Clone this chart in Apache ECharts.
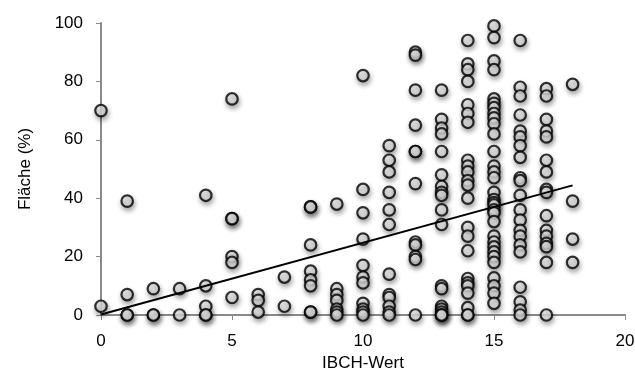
<!DOCTYPE html>
<html>
<head>
<meta charset="utf-8">
<script src="https://cdn.jsdelivr.net/npm/echarts@6/dist/echarts.min.js"></script>
<style>
  html, body { margin: 0; padding: 0; background: #fff; }
  #chart { width: 635px; height: 374px; }
</style>
</head>
<body>
<div id="chart"></div>
<script>
// IBCH-Wert (x) per column and Fläche (%) values
const col0 = [70, 3];
const col1 = [39, 7, 0, 0];
const col2 = [9, 0, 0];
const col3 = [9, 0];
const col4 = [41, 10, 3, 0, 0];
const col5 = [74, 33, 33, 20, 18, 6];
const col6 = [7, 5, 1];
const col7 = [13, 3];
const col8 = [37, 37, 24, 15, 12, 10, 1, 1];
const col9 = [38, 9, 7, 5, 2, 1, 0];
const col10 = [82, 43, 35, 26, 17, 13, 11, 4, 2, 1, 0];
const col11 = [58, 53, 49, 42, 36, 31, 14, 7, 6, 3, 1, 0];
const col12 = [90, 89, 77, 65, 56, 56, 45, 25, 24, 20, 19, 0];
const col13 = [77, 67, 64, 62, 56, 48, 44, 42, 41, 36, 31, 10, 9, 3, 2, 1, 0, 0, 0];
const col14 = [94, 86, 84, 80, 72, 69, 66, 53, 51, 49, 46, 44.5, 40, 30, 27, 22, 12.5, 11, 10, 7.5, 2.5, 0, 0];
const col15 = [99, 95, 87, 84, 74, 72.5, 71, 69, 67.5, 65.5, 62, 56, 51, 49, 47, 42, 39.5, 38.5, 37.7, 36, 35, 32, 27, 25, 23.3, 21.6, 20, 18, 12.7, 10, 7.5, 4];
const col16 = [94, 78, 75, 68.5, 63, 61, 58, 54, 47, 46, 41, 36, 32.5, 29, 27, 24, 21.6, 9.5, 4.5, 1.7, 0];
const col17 = [77.5, 75, 67, 63, 61, 53, 49, 43, 42, 34, 29, 27, 24.5, 23.4, 18, 0];
const col18 = [79, 39, 26, 18];
const columns = [col0, col1, col2, col3, col4, col5, col6, col7, col8, col9,
                 col10, col11, col12, col13, col14, col15, col16, col17, col18];

// linear trend line endpoints
const trendX = [0, 18];
const trendY = [0.2, 44.4];

const xTicks = [0, 5, 10, 15, 20];
const yTicks = [0, 20, 40, 60, 80, 100];

const points = [];
columns.forEach((vals, x) => vals.forEach(v => points.push([x, v])));

const font = 'Liberation Sans, Arial, sans-serif';
const chart = echarts.init(document.getElementById('chart'), null, { renderer: 'canvas' });
chart.setOption({
  animation: false,
  backgroundColor: '#ffffff',
  grid: { left: 101, right: 10, top: 23, bottom: 59, containLabel: false, outerBoundsMode: 'none' },
  xAxis: {
    type: 'value', min: xTicks[0], max: xTicks[xTicks.length - 1], interval: 5,
    name: 'IBCH-Wert', nameLocation: 'middle', nameGap: 31,
    nameTextStyle: { color: '#000', fontSize: 17, fontFamily: font },
    axisLine: { show: true, lineStyle: { color: '#8a8a8a', width: 2 } },
    axisTick: { show: true, inside: false, length: 5, lineStyle: { color: '#8a8a8a', width: 1 } },
    axisLabel: { color: '#000', fontSize: 17, fontFamily: font, margin: 18 },
    splitLine: { show: false }
  },
  yAxis: {
    type: 'value', min: yTicks[0], max: yTicks[yTicks.length - 1], interval: 20,
    name: 'Fläche (%)', nameLocation: 'middle', nameGap: 67, nameRotate: 90,
    nameTextStyle: { color: '#000', fontSize: 17, fontFamily: font },
    axisLine: { show: true, lineStyle: { color: '#8a8a8a', width: 2 } },
    axisTick: { show: true, inside: false, length: 5, lineStyle: { color: '#8a8a8a', width: 1 } },
    axisLabel: { color: '#000', fontSize: 17, fontFamily: font, margin: 18 },
    splitLine: { show: false }
  },
  series: [
    {
      type: 'scatter',
      data: points,
      symbol: 'circle',
      symbolSize: 11.5,
      clip: false,
      itemStyle: {
        color: {
          type: 'radial', x: 0.4, y: 0.4, r: 0.6,
          colorStops: [{ offset: 0, color: '#fbfbfb' }, { offset: 1, color: '#d4d4d4' }]
        },
        borderColor: '#000', borderWidth: 2.2,
        shadowColor: 'rgba(0,0,0,0.4)', shadowBlur: 5, shadowOffsetX: 1, shadowOffsetY: 3
      },
      z: 2
    },
    {
      type: 'line',
      data: trendX.map((x, i) => [x, trendY[i]]),
      showSymbol: false,
      lineStyle: { color: '#000', width: 2 },
      z: 3
    }
  ]
});
</script>
</body>
</html>
